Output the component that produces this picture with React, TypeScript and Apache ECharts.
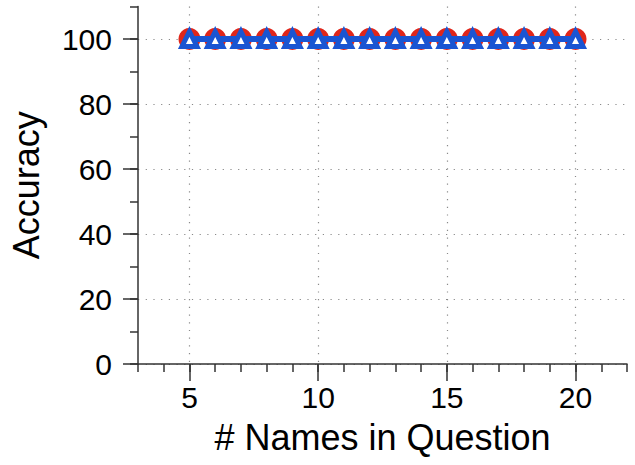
import React, { useEffect, useRef } from "react";
import * as echarts from "echarts";

const namesInQuestion = [5, 6, 7, 8, 9, 10, 11, 12, 13, 14, 15, 16, 17, 18, 19, 20];
const accuracyA = [100, 100, 100, 100, 100, 100, 100, 100, 100, 100, 100, 100, 100, 100, 100, 100];
const accuracyB = [100, 100, 100, 100, 100, 100, 100, 100, 100, 100, 100, 100, 100, 100, 100, 100];
const xMajorTicks = [5, 10, 15, 20];
const yMajorTicks = [0, 20, 40, 60, 80, 100];

const FONT = "Liberation Sans, Arial, Helvetica, sans-serif";
const AXIS_COLOR = "#333";
const RED = "#e0261a";
const BLUE = "#1a55d2";

export default function App() {
  const ref = useRef<HTMLDivElement>(null);
  useEffect(() => {
    if (!ref.current) return;
    const chart = echarts.init(ref.current, undefined, { renderer: "svg" });
    const grid = { left: 137, right: 8, top: 6.5, bottom: 101, containLabel: false };
    const dotted = { color: "#8a8a8a", width: 1.2, type: [1.2, 6.5] as any };
    chart.setOption({
      animation: false,
      backgroundColor: "#fff",
      grid,
      xAxis: [
        {
          type: "value",
          min: 3,
          max: 22,
          position: "bottom",
          name: "# Names in Question",
          nameLocation: "middle",
          nameGap: 55,
          nameTextStyle: { fontFamily: FONT, fontSize: 36, color: "#000" },
          axisLine: { show: true, onZero: false, lineStyle: { color: AXIS_COLOR, width: 1.5 } },
          axisTick: { show: true, inside: false, length: 17, customValues: xMajorTicks, lineStyle: { color: AXIS_COLOR, width: 1.5 } },
          axisLabel: { show: true, customValues: xMajorTicks, margin: 18, fontFamily: FONT, fontSize: 30, color: "#000" },
          splitLine: { show: true, lineStyle: dotted },
        },
        {
          type: "value",
          min: 3,
          max: 22,
          interval: 1,
          position: "bottom",
          axisLine: { show: false, onZero: false },
          axisTick: { show: true, inside: false, length: 8, lineStyle: { color: AXIS_COLOR, width: 1.5 } },
          axisLabel: { show: false },
          splitLine: { show: false },
        },
      ],
      yAxis: [
        {
          type: "value",
          min: 0,
          max: 110,
          position: "left",
          name: "Accuracy",
          nameLocation: "middle",
          nameGap: 94,
          nameTextStyle: { fontFamily: FONT, fontSize: 36, color: "#000" },
          axisLine: { show: true, onZero: false, lineStyle: { color: AXIS_COLOR, width: 1.5 } },
          axisTick: { show: true, inside: false, length: 15, customValues: yMajorTicks, lineStyle: { color: AXIS_COLOR, width: 1.5 } },
          axisLabel: { show: true, customValues: yMajorTicks, margin: 26, fontFamily: FONT, fontSize: 30, color: "#000" },
          splitLine: { show: true, lineStyle: dotted },
        },
        {
          type: "value",
          min: 0,
          max: 110,
          interval: 10,
          position: "left",
          axisLine: { show: false, onZero: false },
          axisTick: { show: true, inside: false, length: 8, lineStyle: { color: AXIS_COLOR, width: 1.5 } },
          axisLabel: { show: false },
          splitLine: { show: false },
        },
      ],
      series: [
        {
          type: "scatter",
          xAxisIndex: 0,
          yAxisIndex: 0,
          symbol: "circle",
          symbolSize: 22,
          itemStyle: { color: RED, opacity: 1 },
          data: namesInQuestion.map((x, i) => [x, accuracyA[i]]),
          z: 2,
        },
        {
          type: "line",
          xAxisIndex: 0,
          yAxisIndex: 0,
          symbol: "triangle",
          symbolSize: 15,
          showSymbol: true,
          lineStyle: { color: BLUE, width: 6 },
          itemStyle: { color: "#fff", borderColor: BLUE, borderWidth: 5, opacity: 1 },
          data: namesInQuestion.map((x, i) => [x, accuracyB[i]]),
          z: 3,
        },
      ],
    });
    return () => chart.dispose();
  }, []);
  return <div ref={ref} style={{ position: "fixed", left: 0, top: 0, width: 635, height: 465 }} />;
}
